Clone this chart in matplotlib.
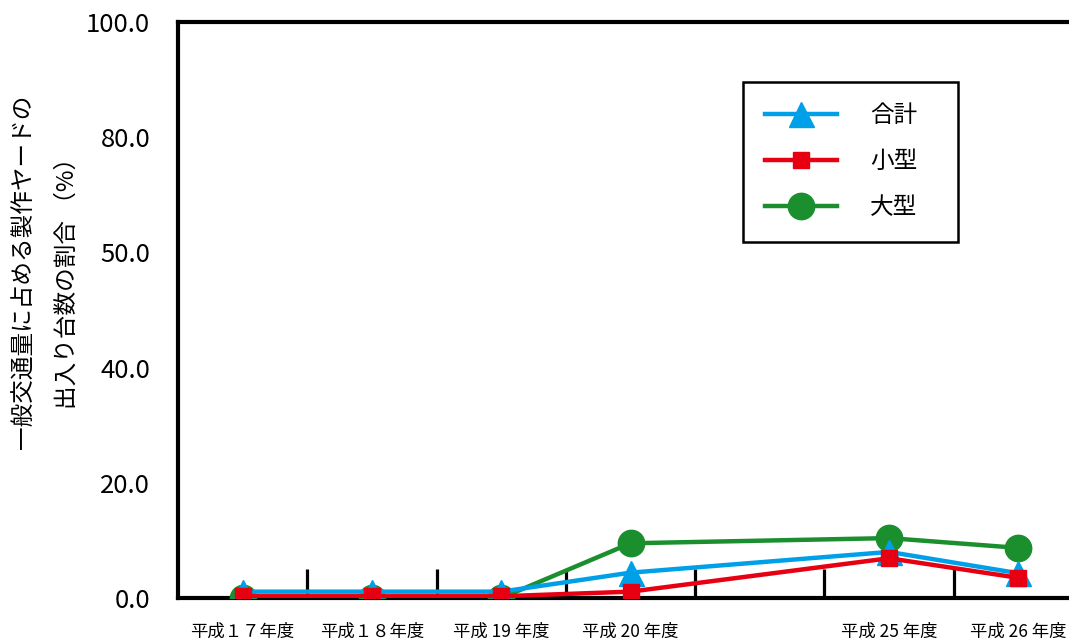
import matplotlib
matplotlib.use('Agg')
import matplotlib.pyplot as plt
from matplotlib.ticker import FixedLocator, FixedFormatter, NullFormatter

plt.rcParams['font.family'] = ['Noto Sans CJK JP', 'DejaVu Sans']

# ---- data ----
slot_labels = ['平成１７年度', '平成１８年度', '平成 19 年度', '平成 20 年度', '', '平成 25 年度', '平成 26 年度']
x_idx = [0, 1, 2, 3, 5, 6]
total = [1.1, 1.1, 1.1, 4.4, 8.0, 4.3]    # 合計
small = [0.3, 0.3, 0.3, 1.1, 6.9, 3.5]    # 小型
large = [0.0, 0.0, 0.0, 9.5, 10.4, 8.7]   # 大型
ytick_vals = [0, 20, 40, 60, 80, 100]
ytick_labels = ['0.0', '20.0', '40.0', '50.0', '80.0', '100.0']
series_names = ['合計', '小型', '大型']

BLUE = '#00A0E9'
RED = '#E60012'
GREEN = '#1B8F2E'

W, H = 1069, 640
fig = plt.figure(figsize=(W / 100, H / 100), dpi=100)
ax = fig.add_axes([178 / W, (H - 598) / H, 905 / W, 576 / H])

lg, = ax.plot(x_idx, large, color=GREEN, lw=3.2, marker='o', ms=19, zorder=3, label=series_names[2])
lb, = ax.plot(x_idx, total, color=BLUE, lw=3.2, marker='^', ms=18, zorder=4, label=series_names[0])
lr, = ax.plot(x_idx, small, color=RED, lw=3.2, marker='s', ms=12, zorder=5, label=series_names[1])

n = len(slot_labels)
ax.set_xlim(-0.5, n - 0.5)
ax.set_ylim(0, 100)

# y axis
ax.set_yticks(ytick_vals)
ax.set_yticklabels(ytick_labels)
ax.tick_params(axis='y', length=0, pad=20, labelsize=18.5)

# x axis: boundary ticks inside, labels at slot centres
ax.xaxis.set_major_locator(FixedLocator([i + 0.5 for i in range(n - 1)]))
ax.xaxis.set_major_formatter(NullFormatter())
ax.xaxis.set_minor_locator(FixedLocator(list(range(n))))
ax.xaxis.set_minor_formatter(FixedFormatter(slot_labels))
ax.tick_params(axis='x', which='major', direction='in', length=21, width=2.3, color='black')
ax.tick_params(axis='x', which='minor', length=0, pad=18, labelsize=12.5)

for s in ['left', 'top', 'bottom', 'right']:
    ax.spines[s].set_linewidth(3)
    ax.spines[s].set_color('black')

fig.text(24 / W, 1 - 272 / H, '一般交通量に占める製作ヤードの', rotation=90,
         ha='center', va='center', fontsize=17)
fig.text(67 / W, 1 - 277 / H, '出入り台数の割合 （%）', rotation=90,
         ha='center', va='center', fontsize=17)

leg = ax.legend(handles=[lb, lr, lg], loc='upper left',
                bbox_to_anchor=(0.624, 0.62, 0.2376, 0.276), mode='expand',
                borderaxespad=0, fontsize=17, handlelength=3.05, handletextpad=1.4,
                labelspacing=0.97, borderpad=0.95, fancybox=False, framealpha=1,
                edgecolor='black')
leg.get_frame().set_linewidth(1.8)

fig.savefig('out.png', dpi=100)
